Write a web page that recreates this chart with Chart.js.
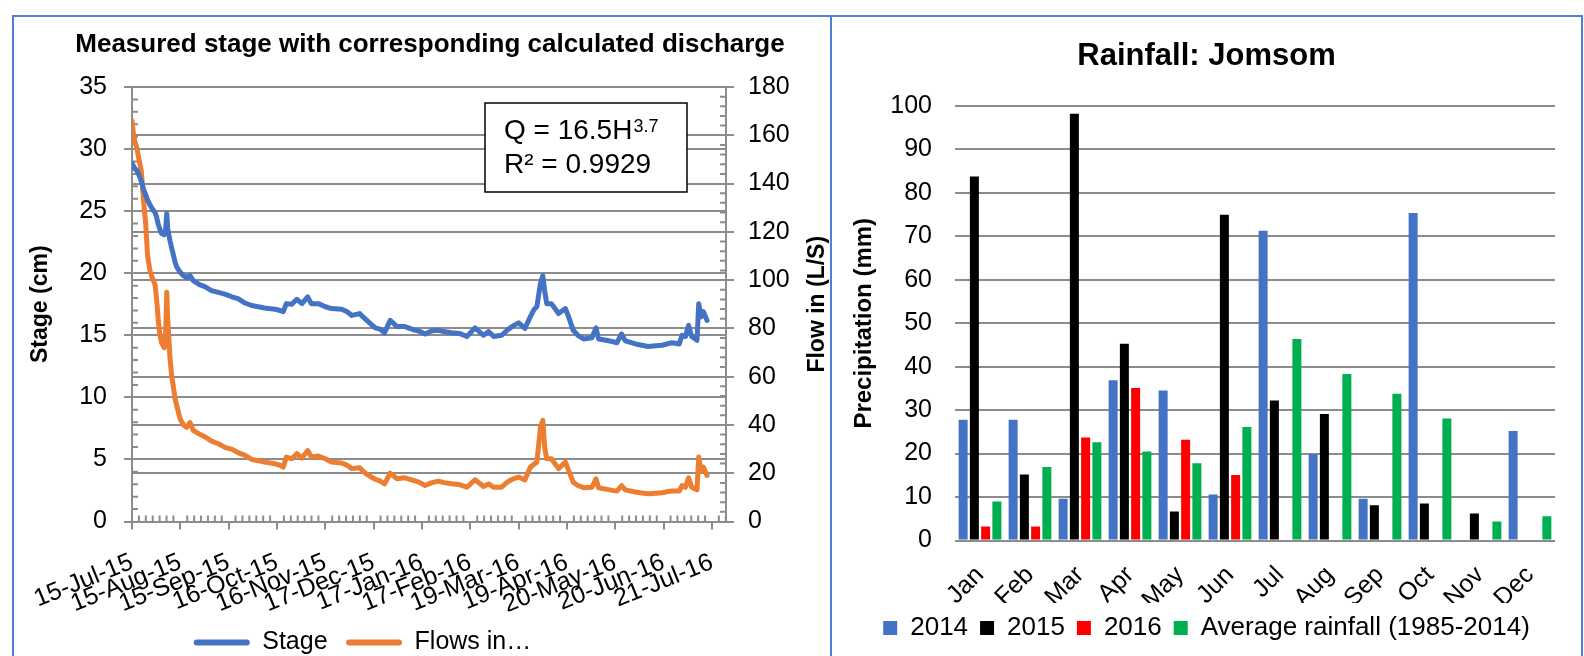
<!DOCTYPE html>
<html>
<head>
<meta charset="utf-8">
<script src="https://cdn.jsdelivr.net/npm/chart.js@4.4.1/dist/chart.umd.min.js"></script>
<style>
  html, body { margin: 0; padding: 0; background: #fff; overflow: hidden; }
  body { width: 1584px; height: 656px; position: relative; }
  .panel { position: absolute; top: 15px; height: 700px; border: 2px solid #4d7fd4; box-sizing: border-box; }
  #leftPanel { left: 12px; width: 820px; }
  #rightPanel { left: 830px; width: 753px; }
  .wrap { position: absolute; top: 17px; }
  #leftWrap { left: 14px; width: 832px; height: 648px; }
  #rightWrap { left: 832px; width: 749px; height: 634px; }
</style>
</head>
<body>
<div class="panel" id="leftPanel"></div>
<div class="panel" id="rightPanel"></div>
<div class="wrap" id="leftWrap"><canvas id="stageChart"></canvas></div>
<div class="wrap" id="rightWrap"><canvas id="rainChart"></canvas></div>
<script>
// stage / discharge series, days counted from 15-Jul-15
var obsDays = [0, 1, 2, 3, 4.5, 6, 7.3, 8.8, 10, 11.5,
    13, 14.8, 15.8, 16.9, 18, 19, 20.7, 21.5, 22.3, 22.9,
    24.4, 25.5, 26.5, 27.6, 28.7, 30.8, 33, 35, 37.2, 39.3,
    43, 47, 51, 55.4, 60, 64, 68, 72.5, 76.8, 81,
    85, 91.8, 95, 97, 99, 102.5, 105.7, 109, 112.7, 115,
    119.6, 124, 128, 134.6, 138, 141, 146, 148, 150.6, 156,
    159, 162, 165.6, 170, 175, 180.5, 184, 188, 192, 196.6,
    200, 205, 210, 214.8, 220, 225.5, 228.7, 232, 237, 241.5,
    245, 248, 252, 255.5, 258, 259.7, 262, 263.5, 264.7, 266,
    269, 273.6, 278, 280, 283, 286, 289.7, 295, 297.6, 299.3,
    304, 308, 311, 314, 316.4, 323, 327, 331, 336, 340,
    343, 346.4, 351, 352.8, 355, 357, 359, 362.4, 363.5, 365,
    366.5, 368.8]
var stageCm = [28.85, 28.6, 28.4, 28.3, 27.9, 27.4, 26.8, 26.3, 25.9, 25.5,
    25.2, 24.9, 24.5, 23.9, 23.5, 23.2, 23.1, 23.4, 24.8, 23.6,
    22.6, 22.0, 21.5, 20.9, 20.5, 20.1, 19.8, 19.65, 19.8, 19.4,
    19.1, 18.9, 18.6, 18.45, 18.3, 18.1, 17.95, 17.6, 17.4, 17.3,
    17.2, 17.1, 17.0, 16.9, 17.55, 17.5, 17.9, 17.55, 18.1, 17.55,
    17.55, 17.3, 17.15, 17.1, 16.9, 16.6, 16.75, 16.5, 16.2, 15.6,
    15.5, 15.2, 16.2, 15.7, 15.7, 15.45, 15.35, 15.1, 15.35, 15.4,
    15.3, 15.2, 15.15, 14.9, 15.6, 15.0, 15.3, 14.9, 15.0, 15.5,
    15.8, 16.0, 15.55, 16.5, 17.1, 17.3, 19.2, 19.8, 18.6, 17.55,
    17.55, 16.75, 17.15, 16.5, 15.4, 15.0, 14.7, 14.8, 15.6, 14.7,
    14.6, 14.5, 14.4, 15.1, 14.55, 14.3, 14.2, 14.1, 14.15, 14.2,
    14.3, 14.4, 14.3, 15.0, 14.9, 15.8, 14.9, 14.6, 17.55, 16.5,
    16.9, 16.2]
var flowLs = [166, 160, 157, 155, 150, 145, 134, 123, 110, 104,
    101, 98, 92, 83, 77, 74, 72, 76, 95, 84,
    67.5, 60, 56, 51, 48, 42.6, 40, 39, 41, 37.7,
    36.3, 35, 33.3, 32.2, 30.6, 30, 28.5, 27.4, 25.7, 25.2,
    24.6, 23.9, 23.3, 22.5, 26.7, 26.0, 28.1, 26.3, 29.4, 26.7,
    27.1, 26, 24.6, 24.2, 23.3, 21.9, 22.3, 21, 19.5, 17.5,
    16.8, 15.6, 20, 17.7, 18.1, 17, 16.3, 14.9, 16, 16.7,
    16.1, 15.6, 15.3, 14.2, 17.3, 14.5, 15.6, 14.2, 14.2, 16.7,
    17.8, 18.4, 17.2, 22.5, 23.8, 24.6, 39, 41.9, 30.8, 26,
    26, 21.9, 24.6, 21.2, 16.3, 14.9, 14.0, 14.2, 17.7, 14.0,
    13.4, 12.9, 12.6, 14.9, 13.1, 12.2, 11.8, 11.5, 11.7, 11.9,
    12.3, 12.6, 12.6, 14.9, 14.2, 18.1, 14.2, 13.1, 26.7, 21.2,
    22.5, 19.1]
var dateTickDays = [0, 31, 62, 93, 124, 155, 186, 217, 248, 279, 310, 341, 372]
var dateTickLabels = ['15-Jul-15', '15-Aug-15', '15-Sep-15', '16-Oct-15', '16-Nov-15', '17-Dec-15',
    '17-Jan-16', '17-Feb-16', '19-Mar-16', '19-Apr-16', '20-May-16', '20-Jun-16', '21-Jul-16']
var flowAxisLabel = 'Flow in (L/S)'
var eqLine1 = 'Q = 16.5H'
var eqPower = '3.7'
var eqLine2 = 'R² = 0.9929'

// rainfall at Jomsom (mm)
var months = ['Jan', 'Feb', 'Mar', 'Apr', 'May', 'Jun', 'Jul', 'Aug', 'Sep', 'Oct', 'Nov', 'Dec']
var rain2014 = [27.8, 27.8, 9.6, 36.9, 34.5, 10.6, 71.3, 19.9, 9.6, 75.4, null, 25.2]
var rain2015 = [83.8, 15.2, 98.2, 45.3, 6.7, 75.0, 32.2, 29.1, 8.1, 8.5, 6.2, null]
var rain2016 = [3.2, 3.2, 23.7, 35.1, 23.2, 15.1, null, null, null, null, null, null]
var rainAvg = [9.0, 16.9, 22.6, 20.5, 17.8, 26.1, 46.4, 38.3, 33.8, 28.1, 4.4, 5.6]

var fontFamily = "'Liberation Sans', Arial, sans-serif"
var gridGray = '#8c8c8c'

Chart.defaults.font.family = fontFamily
Chart.defaults.color = '#000'
Chart.defaults.animation = false

// small inside ticks between the major ones
var minorTicks = {
    id: 'minorTicks',
    beforeDatasetsDraw(chart) {
        var ctx = chart.ctx, a = chart.chartArea, s = chart.scales
        ctx.save()
        ctx.strokeStyle = gridGray
        ctx.lineWidth = 2
        ctx.beginPath()
        for (var v = 1; v < 35; v++) {
            if (v % 5 == 0) continue
            var py = s.y.getPixelForValue(v)
            ctx.moveTo(a.left, py); ctx.lineTo(a.left + 6, py)
        }
        for (var f = 4; f < 180; f += 4) {
            if (f % 20 == 0) continue
            var fy = s.y1.getPixelForValue(f)
            ctx.moveTo(a.right - 6, fy); ctx.lineTo(a.right, fy)
        }
        for (var d = 0; d < s.x.max; d += 31) {
            for (var k = 1; k < 7; k++) {
                var dd = d + k * 31 / 7
                if (dd >= s.x.max) break
                var px = s.x.getPixelForValue(dd)
                ctx.moveTo(px, a.bottom); ctx.lineTo(px, a.bottom - 6)
            }
        }
        ctx.stroke()
        ctx.restore()
    }
}

var equationBox = {
    id: 'equationBox',
    afterDraw(chart) {
        var ctx = chart.ctx, a = chart.chartArea
        var bx = a.left + 353, by = a.top + 16, bw = 202, bh = 89
        ctx.save()
        ctx.fillStyle = '#fff'
        ctx.fillRect(bx, by, bw, bh)
        ctx.strokeStyle = '#000'
        ctx.lineWidth = 1.5
        ctx.strokeRect(bx, by, bw, bh)
        ctx.fillStyle = '#000'
        ctx.textBaseline = 'alphabetic'
        ctx.font = '28px ' + fontFamily
        ctx.fillText(eqLine1, bx + 19, by + 36)
        var w1 = ctx.measureText(eqLine1).width
        ctx.fillText(eqLine2, bx + 19, by + 70)
        ctx.font = '18px ' + fontFamily
        ctx.fillText(eqPower, bx + 20 + w1, by + 29)
        ctx.restore()
    }
}

// right axis title reads bottom to top, like the left one
var flowAxisTitle = {
    id: 'flowAxisTitle',
    afterDraw(chart) {
        var ctx = chart.ctx, a = chart.chartArea
        ctx.save()
        ctx.translate(a.right + 92, (a.top + a.bottom) / 2)
        ctx.rotate(-Math.PI / 2)
        ctx.font = 'bold 23px ' + fontFamily
        ctx.textAlign = 'center'
        ctx.textBaseline = 'middle'
        ctx.fillStyle = '#000'
        ctx.fillText(flowAxisLabel, 0, 0)
        ctx.restore()
    }
}

var legendShift = {
    id: 'legendShift',
    afterLayout(chart, args, opts) {
        if (!chart.legend) return
        chart.legend.left += opts.dx
        chart.legend.right += opts.dx
    }
}

function flatLegendLabels(chart) {
    var items = Chart.defaults.plugins.legend.labels.generateLabels(chart)
    items.forEach(it => { it.lineWidth = 0 })
    return items
}

function lineSet(label, values, axis, color) {
    return {
        label: label,
        data: obsDays.map((d, i) => ({ x: d, y: values[i] })),
        yAxisID: axis,
        borderColor: color,
        backgroundColor: color,
        borderWidth: 5,
        pointRadius: 0,
        tension: 0,
        borderJoinStyle: 'round',
        borderCapStyle: 'round'
    }
}

new Chart(document.getElementById('stageChart'), {
    type: 'line',
    data: {
        datasets: [
            lineSet('Stage', stageCm, 'y', '#4472C4'),
            lineSet('Flows in…', flowLs, 'y1', '#ED7D31')
        ]
    },
    options: {
        responsive: true,
        maintainAspectRatio: false,
        layout: { padding: 0 },
        plugins: {
            title: {
                display: true,
                text: 'Measured stage with corresponding calculated discharge',
                font: { size: 26, weight: 'bold' },
                color: '#000',
                padding: { top: 12.4, bottom: 26.4 }
            },
            legend: {
                position: 'bottom',
                labels: {
                    boxWidth: 56, boxHeight: 6, padding: 18.5,
                    font: { size: 25 }, color: '#000',
                    useBorderRadius: true, borderRadius: 3,
                    generateLabels: flatLegendLabels
                }
            },
            tooltip: { enabled: false },
            legendShift: { dx: -67.5 }
        },
        scales: {
            x: {
                type: 'linear', min: 0, max: 381,
                afterBuildTicks: s => { s.ticks = dateTickDays.map(v => ({ value: v })) },
                afterFit: s => { s.height = 90 },
                grid: { drawOnChartArea: false, color: gridGray, lineWidth: 2, tickLength: 8 },
                border: { color: gridGray, width: 2 },
                ticks: {
                    autoSkip: false, minRotation: 22, maxRotation: 22, padding: 18,
                    font: { size: 25 }, color: '#000',
                    callback: v => dateTickLabels[dateTickDays.indexOf(v)]
                }
            },
            y: {
                position: 'left', min: 0, max: 35,
                afterFit: s => { s.width = 118 },
                grid: { color: gridGray, lineWidth: 2, tickLength: 8 },
                border: { color: gridGray, width: 2 },
                ticks: { stepSize: 5, padding: 17, font: { size: 25 }, color: '#000' },
                title: {
                    display: true, text: 'Stage (cm)',
                    font: { size: 23, weight: 'bold' }, color: '#000',
                    padding: { top: 13, bottom: 0 }
                }
            },
            y1: {
                position: 'right', min: 0, max: 180,
                afterFit: s => { s.width = 120 },
                grid: { color: gridGray, lineWidth: 2, tickLength: 8 },
                border: { color: gridGray, width: 2 },
                ticks: { stepSize: 20, padding: 14, font: { size: 25 }, color: '#000' }
            }
        }
    },
    plugins: [minorTicks, equationBox, flowAxisTitle, legendShift]
})

new Chart(document.getElementById('rainChart'), {
    type: 'bar',
    data: {
        labels: months,
        datasets: [
            { label: '2014', data: rain2014, backgroundColor: '#4472C4' },
            { label: '2015', data: rain2015, backgroundColor: '#000000' },
            { label: '2016', data: rain2016, backgroundColor: '#FF0000' },
            { label: 'Average rainfall (1985-2014)', data: rainAvg, backgroundColor: '#00B050' }
        ]
    },
    options: {
        responsive: true,
        maintainAspectRatio: false,
        datasets: { bar: { categoryPercentage: 0.9, barPercentage: 0.8 } },
        plugins: {
            title: {
                display: true, text: 'Rainfall: Jomsom',
                font: { size: 31, weight: 'bold' }, color: '#000',
                padding: { top: 21, bottom: 30.8 }
            },
            legend: {
                position: 'bottom',
                labels: { boxWidth: 14, boxHeight: 14, padding: 12, font: { size: 26 }, color: '#000' }
            },
            tooltip: { enabled: false }
        },
        scales: {
            x: {
                grid: { display: false },
                border: { display: false },
                afterFit: s => { s.height = 62.5 },
                ticks: { autoSkip: false, minRotation: 45, maxRotation: 45, padding: 12, font: { size: 25 }, color: '#000' }
            },
            y: {
                min: 0, max: 100,
                afterFit: s => { s.width = 123 },
                grid: { color: gridGray, lineWidth: 2, drawTicks: false },
                border: { display: false },
                ticks: { stepSize: 10, padding: 23, font: { size: 25 }, color: '#000' },
                title: {
                    display: true, text: 'Precipitation (mm)',
                    font: { size: 24, weight: 'bold' }, color: '#000',
                    padding: { top: 17.6, bottom: 0 }
                }
            },
            // empty strip so the plot stops short of the right edge
            yPad: {
                position: 'right',
                grid: { display: false }, border: { display: false },
                ticks: { display: false },
                afterFit: s => { s.width = 26 }
            }
        }
    }
})
</script>
</body>
</html>
